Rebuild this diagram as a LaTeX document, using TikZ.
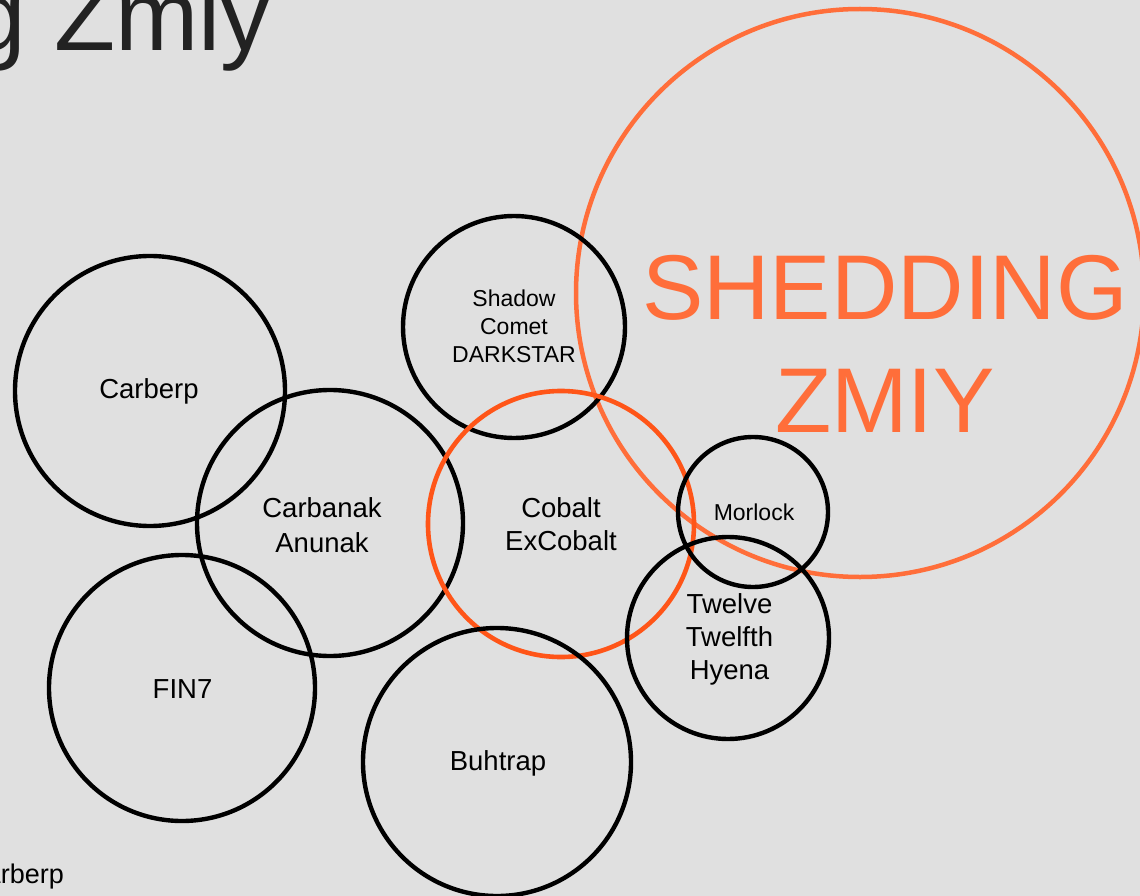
\documentclass[tikz,border=0pt]{standalone}
\usepackage{fontspec}
\setmainfont{Liberation Sans}
\definecolor{pagebg}{HTML}{E0E0E0}
\definecolor{inkdark}{HTML}{222222}
\definecolor{zmiyorange}{HTML}{FF6E3A}
\definecolor{cobaltred}{HTML}{FF5518}
\begin{document}
\begin{tikzpicture}[x=1pt,y=-1pt,
  ring/.style={circle, draw=black, line width=4.4pt, inner sep=0pt, minimum size=#1},
  lab/.style={font=\fontsize{27.5}{35}\selectfont, align=center, inner sep=0pt, anchor=base},
  smalllab/.style={font=\fontsize{23}{28.3}\selectfont, align=center, inner sep=0pt, anchor=base}]
\useasboundingbox (0,0) rectangle (1140,896);
\clip (0,0) rectangle (1140,896);
\fill[pagebg] (0,0) rectangle (1140,896);

% heading, running off the left edge
\node[font=\fontsize{100}{110}\selectfont, text=inkdark, inner sep=0pt, anchor=base east]
  (heading) at (271,51) {Shedding Zmiy};
\node[font=\fontsize{27}{35}\selectfont, inner sep=0pt, anchor=base east]
  (footnote) at (64,883) {Carberp};

% the big group (base anchor = baseline of the last line)
\node[circle, draw=zmiyorange, line width=4.5pt, inner sep=0pt, minimum size=568pt]
  (shedding) at (860,293) {};
\node[font=\fontsize{92}{113}\selectfont, text=zmiyorange, align=center, inner sep=0pt, anchor=base]
  (sheddinglab) at (885,432.5) {SHEDDING\\ZMIY};

% related groups
\node[ring=270pt] (carberp) at (150,391) {};
\node[ring=266pt] (carbanak) at (330,523) {};
\node[ring=222pt] (shadow) at (514,327) {};
\node[circle, draw=cobaltred, line width=4.6pt, inner sep=0pt, minimum size=266pt]
  (cobalt) at (561,524) {};
\node[ring=150pt] (morlock) at (753,512) {};
\node[ring=202pt] (twelve) at (728,638) {};
\node[ring=266pt] (fin7) at (182,688) {};
\node[ring=268pt] (buhtrap) at (497,762) {};

% names
\node[lab] (carberplab) at (149,398) {Carberp};
\node[lab] (carbanaklab) at (322,552) {Carbanak\\Anunak};
\node[smalllab] (shadowlab) at (514,362.7) {Shadow\\Comet\\DARKSTAR};
\node[lab, font=\fontsize{27.5}{33.5}\selectfont] (cobaltlab) at (561,550.5) {Cobalt\\ExCobalt};
\node[smalllab] (morlocklab) at (754,520) {Morlock};
\node[lab, font=\fontsize{27.5}{33}\selectfont] (twelvelab) at (729.5,679) {Twelve\\Twelfth\\Hyena};
\node[lab] (fin7lab) at (182.5,698) {FIN7};
\node[lab] (buhtraplab) at (498,770) {Buhtrap};
\end{tikzpicture}
\end{document}
